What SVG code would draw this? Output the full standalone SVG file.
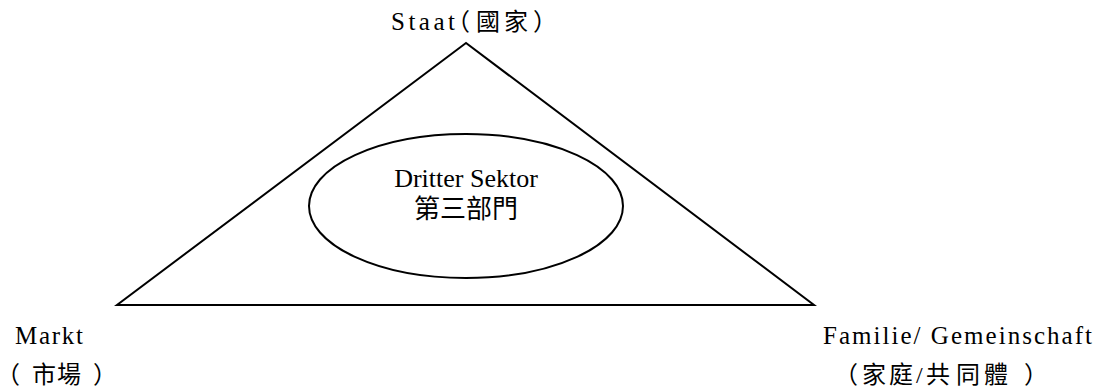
<svg xmlns="http://www.w3.org/2000/svg" width="1099" height="387" viewBox="0 0 1099 387">
<style>
.shape{fill:none;stroke:#000;stroke-width:2}
.lat{font-family:"Liberation Serif","Times New Roman",serif;font-size:25px;fill:#000}
.cjk{font-family:"Noto Sans CJK TC","Noto Sans CJK SC",sans-serif;font-size:24px;fill:#000}
.mid{font-family:"Liberation Serif","Times New Roman",serif;font-size:26px;fill:#000;text-anchor:middle}
.midcjk{font-family:"Noto Sans CJK TC","Noto Sans CJK SC",sans-serif;font-size:26px;fill:#000;text-anchor:middle}
</style>
<rect width="1099" height="387" fill="#fff"/>
<g id="triangle">
<polygon class="shape" points="466,43 117,305 814,305"/>
</g>
<g id="third-sector">
<ellipse class="shape" cx="466" cy="206" rx="157" ry="72"/>
<text class="mid" x="466" y="187">Dritter Sektor</text>
<text class="midcjk" x="466" y="218">第三部門</text>
</g>
<g id="staat">
<text class="lat" x="391" y="30" textLength="64" lengthAdjust="spacing">Staat</text>
<text class="cjk" y="30"><tspan x="446">（</tspan><tspan x="476">國</tspan><tspan x="504">家</tspan><tspan x="533">）</tspan></text>
</g>
<g id="markt">
<text class="lat" x="15" y="344" textLength="68" lengthAdjust="spacing">Markt</text>
<text class="cjk" y="383"><tspan x="-4">（</tspan><tspan x="32">市</tspan><tspan x="57">場</tspan><tspan x="93">）</tspan></text>
</g>
<g id="familie">
<text class="lat" x="823" y="344" textLength="269" lengthAdjust="spacing">Familie/ Gemeinschaft</text>
<text class="cjk" y="383"><tspan x="834">（</tspan><tspan x="862">家</tspan><tspan x="889">庭</tspan><tspan x="916" font-family="Liberation Serif, serif">/</tspan><tspan x="926">共</tspan><tspan x="956">同</tspan><tspan x="984">體</tspan><tspan x="1024">）</tspan></text>
</g>
<g id="connectors"/>
</svg>
